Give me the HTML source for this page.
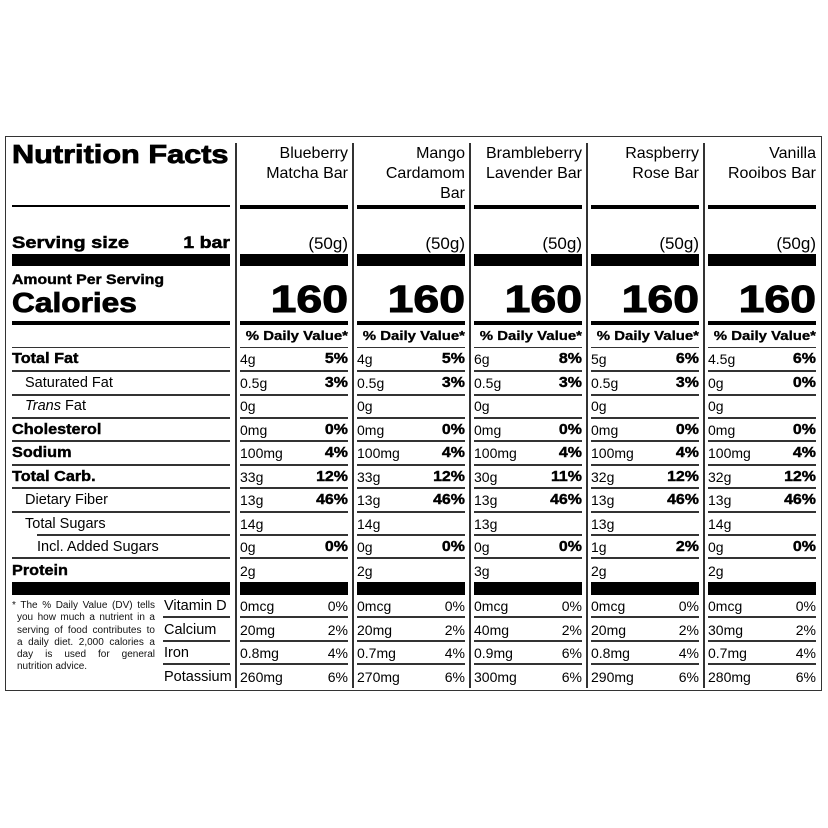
<!DOCTYPE html><html><head><style>
body{margin:0;width:828px;height:828px;background:#fff;position:relative;font-family:"Liberation Sans",Arial,sans-serif;color:#000;overflow:hidden}
.a{position:absolute}
.box{left:5px;top:136px;width:815px;height:553px;border:1.5px solid #333}
.sep{width:2px;background:#333;top:143px;height:545px}
.c{position:absolute;top:0;width:108px;height:828px}
.c div{position:absolute;left:0;width:108px;line-height:18px;white-space:nowrap}
.c .r{text-align:right}
.c .l{text-align:left}
.t{font-size:14px}
.b{font-weight:bold;font-size:14.5px;transform:scaleX(1.1);transform-origin:right;-webkit-text-stroke:0.4px #000}
.dv{font-weight:bold;font-size:13px;transform:scaleX(1.15);transform-origin:right;-webkit-text-stroke:0.3px #000}
.big{font-size:38px;font-weight:bold;line-height:44px!important;transform:scaleX(1.22);transform-origin:right;-webkit-text-stroke:1px #000}
.ln{height:2px;background:#333;line-height:0!important}
.L div{position:absolute;line-height:18px;white-space:nowrap}
.lb{font-weight:bold;font-size:14.5px;left:12px;transform:scaleX(1.12);transform-origin:left;-webkit-text-stroke:0.4px #000}
.lt{font-size:14.5px;left:25px}
.fn div{position:static!important;text-align:justify;text-align-last:justify;white-space:normal!important;line-height:12.3px!important}
</style></head><body>
<div class="a box"></div>
<div class="a sep" style="left:235px"></div>
<div class="a sep" style="left:352px"></div>
<div class="a sep" style="left:469px"></div>
<div class="a sep" style="left:586px"></div>
<div class="a sep" style="left:703px"></div>

<div class="L">
<div style="left:12px;top:139px;font-size:26px;font-weight:bold;line-height:30px;transform:scaleX(1.18);transform-origin:left;-webkit-text-stroke:0.8px #000">Nutrition Facts</div>
<div style="left:12px;top:205px;width:218px;height:1.5px;background:#000"></div>
<div style="left:12px;top:233px;font-size:17px;font-weight:bold;line-height:20px;transform:scaleX(1.18);transform-origin:left;-webkit-text-stroke:0.5px #000">Serving size</div>
<div style="left:150px;top:233px;width:80px;text-align:right;font-size:17px;font-weight:bold;line-height:20px;transform:scaleX(1.15);transform-origin:right;-webkit-text-stroke:0.5px #000">1 bar</div>
<div style="left:12px;top:254px;width:218px;height:12px;background:#000"></div>
<div style="left:12px;top:270px;font-size:14px;font-weight:bold;transform:scaleX(1.13);transform-origin:left;-webkit-text-stroke:0.4px #000">Amount Per Serving</div>
<div style="left:12px;top:286px;font-size:28px;font-weight:bold;line-height:34px;transform:scaleX(1.13);transform-origin:left;-webkit-text-stroke:0.8px #000">Calories</div>
<div style="left:12px;top:321px;width:218px;height:4px;background:#000"></div>
<div style="left:12px;top:347px;width:218px;height:1px;background:#333"></div>
<div class="lb" style="top:350px">Total Fat</div>
<div class="lt" style="top:374px">Saturated Fat</div>
<div class="lt" style="top:397px"><i>Trans</i> Fat</div>
<div class="lb" style="top:421px">Cholesterol</div>
<div class="lb" style="top:444px">Sodium</div>
<div class="lb" style="top:468px">Total Carb.</div>
<div class="lt" style="top:491px">Dietary Fiber</div>
<div class="lt" style="top:515px">Total Sugars</div>
<div class="lt" style="top:538px;left:37px">Incl. Added Sugars</div>
<div class="lb" style="top:562px">Protein</div>
<div style="left:12px;top:370px;width:218px;height:2px;background:#333"></div>
<div style="left:12px;top:394px;width:218px;height:2px;background:#333"></div>
<div style="left:12px;top:417px;width:218px;height:2px;background:#333"></div>
<div style="left:12px;top:440px;width:218px;height:2px;background:#333"></div>
<div style="left:12px;top:464px;width:218px;height:2px;background:#333"></div>
<div style="left:12px;top:487px;width:218px;height:2px;background:#333"></div>
<div style="left:12px;top:511px;width:218px;height:2px;background:#333"></div>
<div style="left:37px;top:534px;width:193px;height:2px;background:#333"></div>
<div style="left:12px;top:557px;width:218px;height:2px;background:#333"></div>
<div style="left:12px;top:582px;width:218px;height:13px;background:#000"></div>
<div class="fn" style="left:12px;top:600px;width:143px;font-size:10px;color:#111">
<div>* The % Daily Value (DV) tells</div>
<div style="padding-left:5px">you how much a nutrient in a</div>
<div style="padding-left:5px">serving of food contributes to</div>
<div style="padding-left:5px">a daily diet. 2,000 calories a</div>
<div style="padding-left:5px">day is used for general</div>
<div style="padding-left:5px;text-align-last:left">nutrition advice.</div>
</div>
<div style="left:164px;top:597px;font-size:14.5px">Vitamin D</div>
<div style="left:164px;top:621px;font-size:14.5px">Calcium</div>
<div style="left:164px;top:644px;font-size:14.5px">Iron</div>
<div style="left:164px;top:668px;font-size:14.5px">Potassium</div>
<div style="left:163px;top:616px;width:67px;height:2px;background:#333"></div>
<div style="left:163px;top:640px;width:67px;height:2px;background:#333"></div>
<div style="left:163px;top:663px;width:67px;height:2px;background:#333"></div>
</div>

<div class="c" style="left:240px">
<div class="r" style="top:144px;font-size:16px;line-height:20px;white-space:normal">Blueberry<br>Matcha Bar</div>
<div class="ln" style="top:205px;height:4px;background:#000"></div>
<div class="r" style="top:234px;font-size:17px;line-height:20px">(50g)</div>
<div class="ln" style="top:254px;height:12px;background:#000"></div>
<div class="r big" style="top:278px">160</div>
<div class="ln" style="top:321px;height:4px;background:#000"></div>
<div class="r dv" style="top:327px">% Daily Value*</div>
<div class="ln" style="top:347px;height:1px"></div>
<div class="l t" style="top:350px">4g</div><div class="r b" style="top:350px">5%</div>
<div class="l t" style="top:374px">0.5g</div><div class="r b" style="top:374px">3%</div>
<div class="l t" style="top:397px">0g</div>
<div class="l t" style="top:421px">0mg</div><div class="r b" style="top:421px">0%</div>
<div class="l t" style="top:444px">100mg</div><div class="r b" style="top:444px">4%</div>
<div class="l t" style="top:468px">33g</div><div class="r b" style="top:468px">12%</div>
<div class="l t" style="top:491px">13g</div><div class="r b" style="top:491px">46%</div>
<div class="l t" style="top:515px">14g</div>
<div class="l t" style="top:538px">0g</div><div class="r b" style="top:538px">0%</div>
<div class="l t" style="top:562px">2g</div>
<div class="ln" style="top:370px"></div><div class="ln" style="top:394px"></div><div class="ln" style="top:417px"></div><div class="ln" style="top:440px"></div><div class="ln" style="top:464px"></div><div class="ln" style="top:487px"></div><div class="ln" style="top:511px"></div><div class="ln" style="top:534px"></div><div class="ln" style="top:557px"></div>
<div class="ln" style="top:582px;height:13px;background:#000"></div>
<div class="l t" style="top:597px">0mcg</div><div class="r t" style="top:597px">0%</div>
<div class="l t" style="top:621px">20mg</div><div class="r t" style="top:621px">2%</div>
<div class="l t" style="top:644px">0.8mg</div><div class="r t" style="top:644px">4%</div>
<div class="l t" style="top:668px">260mg</div><div class="r t" style="top:668px">6%</div>
<div class="ln" style="top:616px"></div><div class="ln" style="top:640px"></div><div class="ln" style="top:663px"></div>
</div>

<div class="c" style="left:357px">
<div class="r" style="top:144px;font-size:16px;line-height:20px;white-space:normal">Mango<br>Cardamom<br>Bar</div>
<div class="ln" style="top:205px;height:4px;background:#000"></div>
<div class="r" style="top:234px;font-size:17px;line-height:20px">(50g)</div>
<div class="ln" style="top:254px;height:12px;background:#000"></div>
<div class="r big" style="top:278px">160</div>
<div class="ln" style="top:321px;height:4px;background:#000"></div>
<div class="r dv" style="top:327px">% Daily Value*</div>
<div class="ln" style="top:347px;height:1px"></div>
<div class="l t" style="top:350px">4g</div><div class="r b" style="top:350px">5%</div>
<div class="l t" style="top:374px">0.5g</div><div class="r b" style="top:374px">3%</div>
<div class="l t" style="top:397px">0g</div>
<div class="l t" style="top:421px">0mg</div><div class="r b" style="top:421px">0%</div>
<div class="l t" style="top:444px">100mg</div><div class="r b" style="top:444px">4%</div>
<div class="l t" style="top:468px">33g</div><div class="r b" style="top:468px">12%</div>
<div class="l t" style="top:491px">13g</div><div class="r b" style="top:491px">46%</div>
<div class="l t" style="top:515px">14g</div>
<div class="l t" style="top:538px">0g</div><div class="r b" style="top:538px">0%</div>
<div class="l t" style="top:562px">2g</div>
<div class="ln" style="top:370px"></div><div class="ln" style="top:394px"></div><div class="ln" style="top:417px"></div><div class="ln" style="top:440px"></div><div class="ln" style="top:464px"></div><div class="ln" style="top:487px"></div><div class="ln" style="top:511px"></div><div class="ln" style="top:534px"></div><div class="ln" style="top:557px"></div>
<div class="ln" style="top:582px;height:13px;background:#000"></div>
<div class="l t" style="top:597px">0mcg</div><div class="r t" style="top:597px">0%</div>
<div class="l t" style="top:621px">20mg</div><div class="r t" style="top:621px">2%</div>
<div class="l t" style="top:644px">0.7mg</div><div class="r t" style="top:644px">4%</div>
<div class="l t" style="top:668px">270mg</div><div class="r t" style="top:668px">6%</div>
<div class="ln" style="top:616px"></div><div class="ln" style="top:640px"></div><div class="ln" style="top:663px"></div>
</div>

<div class="c" style="left:474px">
<div class="r" style="top:144px;font-size:16px;line-height:20px;white-space:normal">Brambleberry<br>Lavender Bar</div>
<div class="ln" style="top:205px;height:4px;background:#000"></div>
<div class="r" style="top:234px;font-size:17px;line-height:20px">(50g)</div>
<div class="ln" style="top:254px;height:12px;background:#000"></div>
<div class="r big" style="top:278px">160</div>
<div class="ln" style="top:321px;height:4px;background:#000"></div>
<div class="r dv" style="top:327px">% Daily Value*</div>
<div class="ln" style="top:347px;height:1px"></div>
<div class="l t" style="top:350px">6g</div><div class="r b" style="top:350px">8%</div>
<div class="l t" style="top:374px">0.5g</div><div class="r b" style="top:374px">3%</div>
<div class="l t" style="top:397px">0g</div>
<div class="l t" style="top:421px">0mg</div><div class="r b" style="top:421px">0%</div>
<div class="l t" style="top:444px">100mg</div><div class="r b" style="top:444px">4%</div>
<div class="l t" style="top:468px">30g</div><div class="r b" style="top:468px">11%</div>
<div class="l t" style="top:491px">13g</div><div class="r b" style="top:491px">46%</div>
<div class="l t" style="top:515px">13g</div>
<div class="l t" style="top:538px">0g</div><div class="r b" style="top:538px">0%</div>
<div class="l t" style="top:562px">3g</div>
<div class="ln" style="top:370px"></div><div class="ln" style="top:394px"></div><div class="ln" style="top:417px"></div><div class="ln" style="top:440px"></div><div class="ln" style="top:464px"></div><div class="ln" style="top:487px"></div><div class="ln" style="top:511px"></div><div class="ln" style="top:534px"></div><div class="ln" style="top:557px"></div>
<div class="ln" style="top:582px;height:13px;background:#000"></div>
<div class="l t" style="top:597px">0mcg</div><div class="r t" style="top:597px">0%</div>
<div class="l t" style="top:621px">40mg</div><div class="r t" style="top:621px">2%</div>
<div class="l t" style="top:644px">0.9mg</div><div class="r t" style="top:644px">6%</div>
<div class="l t" style="top:668px">300mg</div><div class="r t" style="top:668px">6%</div>
<div class="ln" style="top:616px"></div><div class="ln" style="top:640px"></div><div class="ln" style="top:663px"></div>
</div>

<div class="c" style="left:591px">
<div class="r" style="top:144px;font-size:16px;line-height:20px;white-space:normal">Raspberry<br>Rose Bar</div>
<div class="ln" style="top:205px;height:4px;background:#000"></div>
<div class="r" style="top:234px;font-size:17px;line-height:20px">(50g)</div>
<div class="ln" style="top:254px;height:12px;background:#000"></div>
<div class="r big" style="top:278px">160</div>
<div class="ln" style="top:321px;height:4px;background:#000"></div>
<div class="r dv" style="top:327px">% Daily Value*</div>
<div class="ln" style="top:347px;height:1px"></div>
<div class="l t" style="top:350px">5g</div><div class="r b" style="top:350px">6%</div>
<div class="l t" style="top:374px">0.5g</div><div class="r b" style="top:374px">3%</div>
<div class="l t" style="top:397px">0g</div>
<div class="l t" style="top:421px">0mg</div><div class="r b" style="top:421px">0%</div>
<div class="l t" style="top:444px">100mg</div><div class="r b" style="top:444px">4%</div>
<div class="l t" style="top:468px">32g</div><div class="r b" style="top:468px">12%</div>
<div class="l t" style="top:491px">13g</div><div class="r b" style="top:491px">46%</div>
<div class="l t" style="top:515px">13g</div>
<div class="l t" style="top:538px">1g</div><div class="r b" style="top:538px">2%</div>
<div class="l t" style="top:562px">2g</div>
<div class="ln" style="top:370px"></div><div class="ln" style="top:394px"></div><div class="ln" style="top:417px"></div><div class="ln" style="top:440px"></div><div class="ln" style="top:464px"></div><div class="ln" style="top:487px"></div><div class="ln" style="top:511px"></div><div class="ln" style="top:534px"></div><div class="ln" style="top:557px"></div>
<div class="ln" style="top:582px;height:13px;background:#000"></div>
<div class="l t" style="top:597px">0mcg</div><div class="r t" style="top:597px">0%</div>
<div class="l t" style="top:621px">20mg</div><div class="r t" style="top:621px">2%</div>
<div class="l t" style="top:644px">0.8mg</div><div class="r t" style="top:644px">4%</div>
<div class="l t" style="top:668px">290mg</div><div class="r t" style="top:668px">6%</div>
<div class="ln" style="top:616px"></div><div class="ln" style="top:640px"></div><div class="ln" style="top:663px"></div>
</div>

<div class="c" style="left:708px">
<div class="r" style="top:144px;font-size:16px;line-height:20px;white-space:normal">Vanilla<br>Rooibos Bar</div>
<div class="ln" style="top:205px;height:4px;background:#000"></div>
<div class="r" style="top:234px;font-size:17px;line-height:20px">(50g)</div>
<div class="ln" style="top:254px;height:12px;background:#000"></div>
<div class="r big" style="top:278px">160</div>
<div class="ln" style="top:321px;height:4px;background:#000"></div>
<div class="r dv" style="top:327px">% Daily Value*</div>
<div class="ln" style="top:347px;height:1px"></div>
<div class="l t" style="top:350px">4.5g</div><div class="r b" style="top:350px">6%</div>
<div class="l t" style="top:374px">0g</div><div class="r b" style="top:374px">0%</div>
<div class="l t" style="top:397px">0g</div>
<div class="l t" style="top:421px">0mg</div><div class="r b" style="top:421px">0%</div>
<div class="l t" style="top:444px">100mg</div><div class="r b" style="top:444px">4%</div>
<div class="l t" style="top:468px">32g</div><div class="r b" style="top:468px">12%</div>
<div class="l t" style="top:491px">13g</div><div class="r b" style="top:491px">46%</div>
<div class="l t" style="top:515px">14g</div>
<div class="l t" style="top:538px">0g</div><div class="r b" style="top:538px">0%</div>
<div class="l t" style="top:562px">2g</div>
<div class="ln" style="top:370px"></div><div class="ln" style="top:394px"></div><div class="ln" style="top:417px"></div><div class="ln" style="top:440px"></div><div class="ln" style="top:464px"></div><div class="ln" style="top:487px"></div><div class="ln" style="top:511px"></div><div class="ln" style="top:534px"></div><div class="ln" style="top:557px"></div>
<div class="ln" style="top:582px;height:13px;background:#000"></div>
<div class="l t" style="top:597px">0mcg</div><div class="r t" style="top:597px">0%</div>
<div class="l t" style="top:621px">30mg</div><div class="r t" style="top:621px">2%</div>
<div class="l t" style="top:644px">0.7mg</div><div class="r t" style="top:644px">4%</div>
<div class="l t" style="top:668px">280mg</div><div class="r t" style="top:668px">6%</div>
<div class="ln" style="top:616px"></div><div class="ln" style="top:640px"></div><div class="ln" style="top:663px"></div>
</div>
</body></html>
